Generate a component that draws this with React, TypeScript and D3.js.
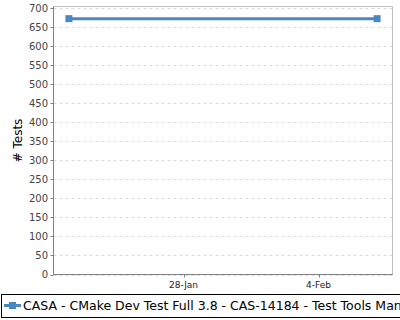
import React from "react";
import * as d3 from "d3";

const dates = ["2020-01-22", "2020-02-07"];
const values = [672, 672];
const yTicks = [0, 50, 100, 150, 200, 250, 300, 350, 400, 450, 500, 550, 600, 650, 700];
const xTickDates = ["2020-01-28", "2020-02-04"];
const xTickLabels = ["28-Jan", "4-Feb"];
const seriesName = "CASA - CMake Dev Test Full 3.8 - CAS-14184 - Test Tools Manager";

export default function App() {
  const W = 400, H = 320;
  const left = 53.5, right = 392.5, top = 6.5, bottom = 274.5;
  const parse = d3.timeParse("%Y-%m-%d");
  const ds = dates.map((d) => parse(d) as Date);
  const span = +ds[1] - +ds[0];
  const x = d3.scaleTime()
    .domain([new Date(+ds[0] - span * 0.05), new Date(+ds[1] + span * 0.05)])
    .range([left, right]);
  const y = d3.scaleLinear().domain([0, 700]).range([bottom, 8]);
  const pts = ds.map((d, i) => [x(d), y(values[i])] as [number, number]);
  const line = d3.line()(pts) || "";
  const font = "DejaVu Sans, sans-serif";
  return (
    <svg width={W} height={H} style={{ position: "absolute", left: 0, top: 0, background: "#fff" }}>
      <rect x={0} y={0} width={W} height={H} fill="#fff" />
      {yTicks.map((t) => (
        <line key={"g" + t} x1={left} x2={right} y1={Math.round(y(t)) + 0.5} y2={Math.round(y(t)) + 0.5}
          stroke="#dcdcdc" strokeWidth={1} strokeDasharray="3,3" />
      ))}
      <line x1={left} x2={right} y1={top} y2={top} stroke="#c0c0c0" />
      <line x1={right} x2={right} y1={top} y2={bottom} stroke="#c0c0c0" />
      <line x1={left} x2={left} y1={top} y2={bottom} stroke="#808080" />
      <line x1={left} x2={right} y1={bottom} y2={bottom} stroke="#808080" />
      {yTicks.map((t) => (
        <g key={"t" + t}>
          <line x1={left - 3} x2={left} y1={Math.round(y(t)) + 0.5} y2={Math.round(y(t)) + 0.5} stroke="#808080" />
          <text x={48} y={y(t)} dy="0.35em" textAnchor="end" fontFamily={font} fontSize={10} fill="#444">{t}</text>
        </g>
      ))}
      {xTickDates.map((d, i) => {
        const xv = Math.round(x(parse(d) as Date)) + 0.5;
        return (
          <g key={d}>
            <line x1={xv} x2={xv} y1={bottom} y2={bottom + 3} stroke="#808080" />
            <text x={xv - 1} y={288} textAnchor="middle" fontFamily={font} fontSize={9} fill="#222">{xTickLabels[i]}</text>
          </g>
        );
      })}
      <text transform={`translate(22,${(top + bottom) / 2}) rotate(-90)`} textAnchor="middle"
        fontFamily={font} fontSize={12} fill="#000">{"# Tests"}</text>
      <path d={line} fill="none" stroke="#4a88c2" strokeWidth={3} />
      {pts.map((p, i) => (
        <rect key={i} x={p[0] - 3.5} y={p[1] - 3.5} width={7} height={7} fill="#4a88c2" />
      ))}
      <rect x={1.5} y={294.5} width={410} height={23} fill="#fff" stroke="#000" strokeWidth={1} />
      <line x1={4} x2={21} y1={305.5} y2={305.5} stroke="#4a88c2" strokeWidth={3} />
      <rect x={9} y={302} width={7} height={7} fill="#4a88c2" />
      <text x={23} y={310} fontFamily={font} fontSize={12.5} fill="#000">{seriesName}</text>
    </svg>
  );
}
